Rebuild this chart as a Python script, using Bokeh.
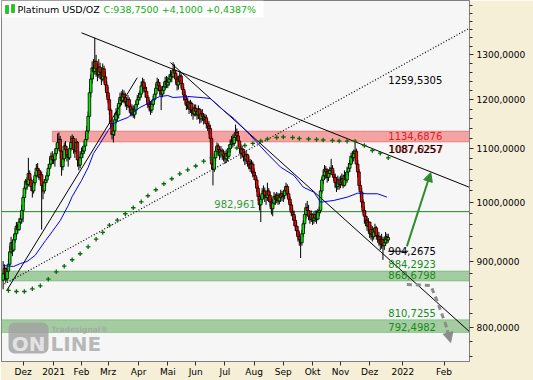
import numpy as np
import pandas as pd
from bokeh.plotting import figure
from bokeh.models import (FixedTicker, Label, BoxAnnotation, Span, Arrow, NormalHead,
                          Range1d, ColumnDataSource)
from bokeh.embed import file_html
from bokeh.resources import INLINE

# ---------------- data ----------------
first_bar = "2020-11-10"
last_bar = "2021-12-21"
first_open = 870.0

close_nov20 = [880, 888, 872, 884, 895, 915, 930, 918, 935, 945, 958, 952, 965, 970, 985]
high_nov20 = [900, 895, 890, 890, 905, 925, 940, 935, 945, 955, 965, 962, 972, 978, 995]
low_nov20 = [856, 872, 866, 868, 880, 893, 912, 908, 915, 930, 940, 945, 950, 960, 962]

close_dec20 = [1008, 1025, 1038, 1032, 1052, 1040, 1028, 1020, 1035, 1048, 1062, 1058, 1045, 1050, 1030, 1020, 1035, 1040, 1048, 1062, 1070, 1085, 1078]
high_dec20 = [1012, 1030, 1042, 1045, 1082, 1058, 1045, 1035, 1042, 1055, 1070, 1072, 1062, 1058, 1056, 1038, 1042, 1048, 1055, 1070, 1082, 1092, 1095]
low_dec20 = [965, 1000, 1015, 1022, 1028, 1035, 1020, 1008, 1015, 1030, 1045, 1048, 1040, 1038, 952, 1005, 1015, 1028, 1035, 1045, 1058, 1065, 1070]

close_jan21 = [1078, 1090, 1100, 1112, 1118, 1095, 1065, 1080, 1105, 1098, 1088, 1082, 1100, 1112, 1120, 1098, 1095, 1112, 1078, 1068, 1082]
high_jan21 = [1085, 1100, 1110, 1130, 1132, 1125, 1098, 1090, 1112, 1115, 1105, 1095, 1108, 1125, 1128, 1125, 1108, 1120, 1115, 1085, 1095]
low_jan21 = [1070, 1065, 1085, 1095, 1100, 1080, 1048, 1058, 1075, 1085, 1075, 1065, 1078, 1095, 1105, 1090, 1082, 1090, 1065, 1058, 1062]

close_feb21 = [1090, 1095, 1105, 1118, 1135, 1165, 1215, 1245, 1270, 1262, 1285, 1268, 1255, 1272, 1260, 1245, 1268, 1250, 1232, 1215]
high_feb21 = [1102, 1105, 1115, 1130, 1145, 1175, 1225, 1255, 1285, 1290, 1340, 1300, 1280, 1290, 1282, 1270, 1280, 1275, 1262, 1240]
low_feb21 = [1075, 1082, 1090, 1100, 1115, 1130, 1160, 1205, 1235, 1245, 1255, 1250, 1240, 1248, 1245, 1232, 1240, 1235, 1220, 1205]

close_mar21 = [1200, 1178, 1150, 1128, 1135, 1158, 1172, 1168, 1192, 1205, 1198, 1212, 1205, 1195, 1188, 1200, 1185, 1172, 1180, 1168, 1178, 1190, 1200]
high_mar21 = [1228, 1210, 1182, 1160, 1148, 1168, 1182, 1188, 1200, 1215, 1218, 1222, 1220, 1215, 1205, 1210, 1205, 1192, 1190, 1188, 1186, 1198, 1210]
low_mar21 = [1192, 1168, 1140, 1118, 1112, 1125, 1150, 1155, 1160, 1185, 1188, 1195, 1192, 1185, 1178, 1182, 1175, 1165, 1165, 1162, 1160, 1170, 1185]

close_apr21 = [1205, 1212, 1230, 1238, 1225, 1218, 1205, 1190, 1185, 1178, 1190, 1200, 1212, 1225, 1238, 1230, 1220, 1212, 1220, 1228, 1240, 1232]
high_apr21 = [1215, 1220, 1240, 1248, 1245, 1235, 1228, 1210, 1200, 1195, 1198, 1208, 1222, 1235, 1248, 1245, 1238, 1228, 1230, 1238, 1250, 1252]
low_apr21 = [1190, 1198, 1205, 1222, 1215, 1205, 1195, 1182, 1175, 1168, 1172, 1185, 1195, 1205, 1220, 1218, 1208, 1178, 1205, 1212, 1222, 1225]

close_may21 = [1238, 1245, 1255, 1250, 1265, 1258, 1245, 1232, 1240, 1252, 1235, 1222, 1210, 1200, 1188, 1195, 1180, 1192, 1178, 1170, 1182]
high_may21 = [1250, 1255, 1265, 1262, 1283, 1278, 1265, 1252, 1250, 1262, 1258, 1242, 1228, 1218, 1205, 1205, 1198, 1200, 1196, 1185, 1190]
low_may21 = [1225, 1230, 1240, 1238, 1248, 1245, 1235, 1220, 1222, 1238, 1225, 1212, 1198, 1190, 1178, 1180, 1170, 1172, 1165, 1158, 1165]

close_jun21 = [1175, 1168, 1180, 1160, 1170, 1165, 1158, 1162, 1150, 1145, 1140, 1120, 1070, 1060, 1082, 1095, 1105, 1098, 1088, 1095, 1090, 1085]
high_jun21 = [1190, 1182, 1188, 1182, 1178, 1180, 1172, 1170, 1168, 1158, 1155, 1148, 1125, 1078, 1090, 1102, 1112, 1110, 1102, 1105, 1100, 1098]
low_jun21 = [1165, 1158, 1160, 1150, 1152, 1155, 1148, 1150, 1140, 1135, 1128, 1112, 1060, 1030, 1055, 1075, 1088, 1085, 1078, 1082, 1078, 1075]

close_jul21 = [1080, 1090, 1085, 1100, 1108, 1115, 1110, 1122, 1132, 1125, 1115, 1100, 1090, 1098, 1085, 1078, 1088, 1075, 1070, 1062, 1070, 1055]
high_jul21 = [1095, 1098, 1100, 1108, 1118, 1125, 1128, 1130, 1148, 1140, 1135, 1120, 1108, 1105, 1100, 1095, 1095, 1090, 1085, 1080, 1078, 1075]
low_jul21 = [1070, 1072, 1075, 1080, 1092, 1100, 1102, 1105, 1115, 1115, 1105, 1092, 1080, 1082, 1075, 1068, 1070, 1065, 1060, 1055, 1052, 1045]

close_aug21 = [1048, 1040, 1025, 1010, 995, 1005, 1015, 1020, 1012, 1008, 1020, 1012, 1000, 988, 998, 1010, 1005, 1012, 1002, 1008, 1015, 1010]
high_aug21 = [1062, 1055, 1045, 1030, 1018, 1012, 1025, 1030, 1026, 1018, 1035, 1025, 1018, 1008, 1005, 1018, 1015, 1018, 1016, 1015, 1022, 1020]
low_aug21 = [1040, 1030, 1018, 1002, 985, 965, 998, 1005, 1000, 995, 1002, 1000, 992, 978, 975, 995, 995, 998, 995, 996, 1000, 1002]

close_sep21 = [1012, 1020, 1028, 1015, 1005, 995, 982, 978, 968, 958, 950, 940, 935, 930, 945, 962, 978, 990, 985, 975, 970, 978]
high_sep21 = [1022, 1028, 1035, 1032, 1022, 1010, 1000, 990, 985, 975, 965, 958, 948, 942, 952, 968, 985, 998, 1002, 995, 985, 985]
low_sep21 = [1000, 1005, 1012, 1008, 998, 985, 975, 968, 958, 950, 942, 932, 925, 905, 925, 940, 955, 970, 975, 968, 962, 965]

close_oct21 = [968, 972, 978, 970, 982, 985, 1020, 1040, 1048, 1060, 1055, 1045, 1052, 1058, 1062, 1050, 1045, 1035, 1028, 1040, 1032]
high_oct21 = [980, 982, 985, 985, 988, 992, 1028, 1045, 1058, 1068, 1066, 1062, 1060, 1065, 1080, 1068, 1058, 1052, 1045, 1048, 1045]
low_oct21 = [960, 962, 965, 962, 968, 975, 980, 1015, 1032, 1040, 1042, 1035, 1038, 1045, 1050, 1045, 1038, 1025, 1018, 1022, 1022]

close_nov21 = [1035, 1042, 1030, 1048, 1040, 1055, 1062, 1070, 1085, 1082, 1090, 1095, 1070, 1055, 1030, 1018, 1000, 985, 975, 968, 958, 965]
high_nov21 = [1048, 1052, 1050, 1058, 1055, 1065, 1072, 1078, 1092, 1095, 1098, 1112, 1100, 1078, 1060, 1038, 1025, 1005, 992, 985, 975, 972]
low_nov21 = [1025, 1030, 1025, 1028, 1032, 1035, 1048, 1055, 1068, 1072, 1075, 1082, 1062, 1045, 1022, 1008, 990, 978, 962, 958, 950, 948]

close_dec21 = [945, 952, 940, 948, 955, 942, 940, 935, 928, 935, 925, 930, 940, 934.65, 938.75]
high_dec21 = [962, 960, 958, 955, 962, 958, 950, 948, 942, 945, 940, 938, 948, 945, 945]
low_dec21 = [938, 935, 932, 935, 940, 935, 930, 925, 918, 920, 902, 918, 925, 928, 930]

# moving average (blue line)
ma_dates = ["2020-11-10", "2020-11-20", "2020-11-27", "2020-12-04", "2020-12-14", "2020-12-24",
            "2020-12-31", "2021-01-08", "2021-01-18", "2021-01-21", "2021-02-01", "2021-02-08",
            "2021-02-12", "2021-02-19", "2021-03-01", "2021-03-05", "2021-03-12", "2021-03-22",
            "2021-03-26", "2021-04-02", "2021-04-12", "2021-04-16", "2021-04-23", "2021-05-03",
            "2021-05-07", "2021-05-24", "2021-06-07", "2021-06-16", "2021-06-30", "2021-07-12",
            "2021-07-26", "2021-08-16", "2021-08-30", "2021-09-13", "2021-09-22", "2021-10-04",
            "2021-10-11", "2021-10-25", "2021-11-08", "2021-11-18", "2021-11-29", "2021-12-09",
            "2021-12-20"]
ma_values = [893.0, 891.5, 896.2, 899.4, 909.1, 933.7, 948.8, 967.6, 993.8, 1009.9, 1039.1, 1063.5,
             1090.4, 1109.9, 1135.9, 1150.2, 1156.4, 1162.6, 1173.0, 1183.5, 1191.9, 1200.5, 1206.9,
             1209.0, 1204.7, 1206.9, 1204.7, 1202.6, 1177.2, 1159.9, 1132.5, 1089.8, 1064.0, 1048.4,
             1026.8, 1017.7, 999.7, 1002.8, 1008.7, 1015.9, 1014.8, 1014.8, 1008.7]

# parabolic SAR (green crosses)
sar_dates = ["2020-11-16", "2020-11-24", "2020-12-02", "2020-12-10", "2020-12-18", "2020-12-28",
             "2021-01-05", "2021-01-13", "2021-01-21", "2021-01-29", "2021-02-08", "2021-02-16",
             "2021-02-23", "2021-03-02", "2021-03-10", "2021-03-18", "2021-03-26", "2021-04-05",
             "2021-04-12", "2021-04-20", "2021-04-28", "2021-05-06", "2021-05-14", "2021-05-24",
             "2021-06-01", "2021-06-09", "2021-06-17", "2021-06-28", "2021-07-06", "2021-07-14",
             "2021-07-22", "2021-07-30", "2021-08-09", "2021-08-16", "2021-08-25", "2021-09-01",
             "2021-09-10", "2021-09-17", "2021-09-28", "2021-10-06", "2021-10-13", "2021-10-22",
             "2021-10-29", "2021-11-08", "2021-11-16", "2021-11-25", "2021-12-03", "2021-12-13",
             "2021-12-21"]
sar_values = [854.2, 852.6, 852.6, 856.7, 861.3, 871.5, 883.1, 891.9, 902.2, 911.9, 923.3, 935.9,
              947.2, 959.6, 968.2, 979.3, 989.8, 1000.4, 1011.2, 1022.1, 1033.1, 1042.3, 1051.6,
              1059.1, 1066.3, 1075.5, 1081.7, 1089.8, 1096.2, 1101.1, 1106.0, 1110.0, 1114.9,
              1118.9, 1121.9, 1122.9, 1121.9, 1119.9, 1118.9, 1117.9, 1116.9, 1115.9, 1114.9,
              1114.5, 1114.5, 1106.0, 1096.2, 1090.9, 1082.0]

# solid trend lines
trend_d0 = ["2021-02-01", "2021-05-05", "2020-11-13"]
trend_p0 = [1352.0, 1282.0, 855.0]
trend_d1 = ["2022-02-20", "2022-02-20", "2021-03-31"]
trend_p1 = [1026.7, 794.0, 1248.0]
# dotted trend line
dotted_d = ["2020-11-11", "2022-02-20"]
dotted_p = [864.0, 1363.0]
# short marker line
marker_d = ["2021-12-21", "2022-01-05"]
marker_p = [916.0, 916.0]

# zones
red_zone = (1113.0, 1134.6876)
red_zone_start = "2020-12-31"
green_zone_hi = (868.6798, 884.2923)
green_zone_lo = (792.4982, 810.7255)
green_level = 982.961

# projections
up_arrow_d = ["2022-01-04", "2022-01-22"]
up_arrow_p = [924.0, 1054.0]
down_path_d = ["2022-01-04", "2022-01-22", "2022-01-27", "2022-02-02"]
down_path_p = [863.3, 861.8, 837.0, 805.4]
down_head_d = ["2022-02-02", "2022-02-06"]
down_head_p = [805.4, 778.5]

# price labels at the last bar
level_values = [1259.5305, 1134.6876, 1087.6257, 904.2675, 884.2923, 868.6798, 810.7255, 792.4982]
level_texts = ["1259,5305", "1134,6876", "1087,6257", "904,2675", "884,2923", "868,6798", "810,7255", "792,4982"]
shadow_text = "1087,0257"
green_level_text = "982,961"
green_level_label_date = "2021-06-21"

# axes
x_tick_dates = ["2020-12-01", "2021-01-01", "2021-02-01", "2021-03-01", "2021-04-01", "2021-05-01",
                "2021-06-01", "2021-07-01", "2021-08-01", "2021-09-01", "2021-10-01", "2021-11-01",
                "2021-12-01", "2022-01-01", "2022-02-01"]
x_tick_labels = ["Dez", "2021", "Feb", "Mrz", "Apr", "Mai", "Jun", "Jul", "Aug", "Sep", "Okt", "Nov",
                 "Dez", "2022", "Feb"]
y_ticks = [800, 900, 1000, 1100, 1200, 1300]
y_tick_labels = ["800,0000", "900,0000", "1000,0000", "1100,0000", "1200,0000", "1300,0000"]
y_minor = [760, 780, 820, 840, 860, 880, 920, 940, 960, 980, 1020, 1040, 1060, 1080, 1120, 1140,
           1160, 1180, 1220, 1240, 1260, 1280, 1320, 1340, 1360, 1380, 1400, 1420]

title_name = "Platinum USD/OZ"
title_quote = "C:938,7500 +4,1000 +0,4387%"

# ---------------- x mapping: trading days, then calendar days in the future ----------------
ORIGIN = np.datetime64("2020-12-01")
LAST = np.datetime64(last_bar)


def xi(d):
    d = np.datetime64(pd.Timestamp(d).date())
    if d <= LAST:
        return float(np.busday_count(ORIGIN, d))
    return float(np.busday_count(ORIGIN, LAST) + int((d - LAST).astype(int)))


closes = (close_nov20 + close_dec20 + close_jan21 + close_feb21 + close_mar21 + close_apr21 +
          close_may21 + close_jun21 + close_jul21 + close_aug21 + close_sep21 + close_oct21 +
          close_nov21 + close_dec21)
highs = (high_nov20 + high_dec20 + high_jan21 + high_feb21 + high_mar21 + high_apr21 +
         high_may21 + high_jun21 + high_jul21 + high_aug21 + high_sep21 + high_oct21 +
         high_nov21 + high_dec21)
lows = (low_nov20 + low_dec20 + low_jan21 + low_feb21 + low_mar21 + low_apr21 +
        low_may21 + low_jun21 + low_jul21 + low_aug21 + low_sep21 + low_oct21 +
        low_nov21 + low_dec21)
dates = pd.bdate_range(first_bar, last_bar)
n = min(len(dates), len(closes), len(highs), len(lows))
closes, highs, lows = closes[:n], highs[:n], lows[:n]
opens = [first_open] + closes[:-1]
bx = [xi(d) for d in dates[:n]]
tops = [max(o, c) for o, c in zip(opens, closes)]
bots = [min(o, c) for o, c in zip(opens, closes)]
his = [max(h, o, c) for h, o, c in zip(highs, opens, closes)]
los = [min(l, o, c) for l, o, c in zip(lows, opens, closes)]
cols = ["#00F000" if c >= o else "#FF0000" for o, c in zip(opens, closes)]
src = ColumnDataSource(dict(x=bx, top=tops, bottom=bots, hi=his, lo=los, color=cols))

# ---------------- figure ----------------
X0, X1 = -16.23, 336.17
Y0, Y1 = 752.6, 1432.1
FW, FH, FL, FT = 468, 361, 1, 0


def px_x(px):
    return X0 + (px - FL) * (X1 - X0) / FW


def py_y(py):
    return Y1 * (Y0 / Y1) ** ((py - FT) / FH)


BEIGE = "#F6EFD8"
p = figure(frame_width=FW, frame_height=FH, x_range=Range1d(X0, X1), y_range=Range1d(Y0, Y1),
           y_axis_type="log", y_axis_location="right", output_backend="svg",
           toolbar_location=None, min_border_left=FL, min_border_right=64,
           min_border_top=FT, min_border_bottom=19,
           background_fill_color="#F6F6F6", border_fill_color=BEIGE,
           outline_line_color="#808080")
p.grid.visible = False

FONT = "DejaVu Sans"
xa = p.xaxis[0]
xa.ticker = FixedTicker(ticks=[xi(d) for d in x_tick_dates], minor_ticks=[])
xa.major_label_overrides = {xi(d): lab for d, lab in zip(x_tick_dates, x_tick_labels)}
xa.major_label_text_align = "left"
xa.major_label_text_font = FONT
xa.major_label_text_font_size = "9px"
xa.major_label_text_color = "#000000"
xa.major_tick_out = 4
xa.major_tick_in = 0
xa.minor_tick_out = 0
xa.major_tick_line_color = "#303030"
xa.axis_line_color = "#808080"
xa.major_label_standoff = 1

ya = p.yaxis[0]
ya.ticker = FixedTicker(ticks=y_ticks, minor_ticks=y_minor)
ya.major_label_overrides = {t: lab for t, lab in zip(y_ticks, y_tick_labels)}
ya.major_label_text_font = FONT
ya.major_label_text_font_size = "9px"
ya.major_label_text_color = "#000000"
ya.major_tick_out = 4
ya.major_tick_in = 0
ya.minor_tick_out = 3
ya.minor_tick_in = 0
ya.major_tick_line_color = "#303030"
ya.minor_tick_line_color = "#303030"
ya.axis_line_color = "#808080"
ya.major_label_standoff = 3

# zones (behind candles)
GREEN = "#1A8A1A"
p.add_layout(BoxAnnotation(left=xi(red_zone_start), bottom=red_zone[0], top=red_zone[1],
                           fill_color="#F4A3A3", fill_alpha=1, line_color="#E81414", line_width=1,
                           level="underlay"))
for lo_, hi_ in (green_zone_hi, green_zone_lo):
    p.add_layout(BoxAnnotation(bottom=lo_, top=hi_, fill_color="#A3CDA0", fill_alpha=1,
                               line_color=GREEN, line_width=1, level="underlay"))
p.add_layout(Span(location=green_level, dimension="width", line_color=GREEN, line_width=1,
                  level="underlay"))

# candles
p.segment(x0="x", y0="lo", x1="x", y1="hi", source=src, line_color="black", line_width=1)
p.vbar(x="x", width=1.9, top="top", bottom="bottom", source=src, fill_color="color",
       line_color="black", line_width=0.8)

# trend lines
p.segment(x0=[xi(d) for d in trend_d0], y0=trend_p0, x1=[xi(d) for d in trend_d1], y1=trend_p1,
          line_color="black", line_width=1)
p.line([xi(d) for d in dotted_d], dotted_p, line_color="black", line_width=1.2, line_dash="1 2")
p.line([xi(d) for d in marker_d], marker_p, line_color="black", line_width=1)

# moving average
p.line([xi(d) for d in ma_dates], ma_values, line_color="#0000F0", line_width=1)

# SAR
p.scatter([xi(d) for d in sar_dates], sar_values, marker="cross", size=4.5, line_width=1.3,
          line_color="#0B6B0B")

# projections
p.add_layout(Arrow(end=NormalHead(size=9, fill_color="#2E8B2E", line_color="#2E8B2E"),
                   x_start=xi(up_arrow_d[0]), y_start=up_arrow_p[0],
                   x_end=xi(up_arrow_d[1]), y_end=up_arrow_p[1],
                   line_color="#2E8B2E", line_width=2))
p.line([xi(d) for d in down_path_d], down_path_p, line_color="#8C8C8C", line_width=3,
       line_dash="5 4")
p.add_layout(Arrow(end=NormalHead(size=10, fill_color="#8C8C8C", line_color="#8C8C8C"),
                   x_start=xi(down_head_d[0]), y_start=down_head_p[0],
                   x_end=xi(down_head_d[1]), y_end=down_head_p[1],
                   line_color="#8C8C8C", line_width=3, line_dash="4 3"))

# price labels
lbl_colors = ["#000000", "#E02020", "#000000", "#000000", GREEN, GREEN, GREEN, GREEN]
lbl_offsets = [-7, -5, 6, 7, 7, 6, 7, 6]
xlast = xi(last_bar)
p.add_layout(Label(x=xlast, y=level_values[2], x_offset=1, y_offset=lbl_offsets[2],
                   text=shadow_text, text_color="#E02020", text_font=FONT,
                   text_font_size="10px", text_baseline="middle"))
for v, t, c, off in zip(level_values, level_texts, lbl_colors, lbl_offsets):
    p.add_layout(Label(x=xlast, y=v, y_offset=off, text=t, text_color=c, text_font=FONT,
                       text_font_size="10px", text_baseline="middle"))
p.add_layout(Label(x=xi(green_level_label_date), y=green_level, y_offset=8, text=green_level_text,
                   text_color="#3A9A3A", text_font=FONT, text_font_size="10px",
                   text_baseline="middle"))

# watermark logo
try:
    logo_box = BoxAnnotation(left=px_x(8), right=px_x(48), top=py_y(322), bottom=py_y(353),
                             fill_color="#A0A0A0", fill_alpha=0.8, line_color=None,
                             border_radius=6)
except Exception:
    logo_box = BoxAnnotation(left=px_x(8), right=px_x(48), top=py_y(322), bottom=py_y(353),
                             fill_color="#A0A0A0", fill_alpha=0.8, line_color=None)
p.add_layout(logo_box)
p.add_layout(Label(x=px_x(28), y=py_y(343), text="ON", text_align="center", text_baseline="middle",
                   text_font=FONT, text_font_style="bold", text_font_size="20px",
                   text_color="#E2E2E2"))
p.add_layout(Label(x=px_x(50), y=py_y(343), text="LINE", text_baseline="middle",
                   text_font=FONT, text_font_style="bold", text_font_size="20px",
                   text_color="#B0B0B0", text_alpha=0.9))
p.add_layout(Label(x=px_x(51), y=py_y(329), text="Tradesignal®", text_baseline="middle",
                   text_font=FONT, text_font_style="bold", text_font_size="7.5px",
                   text_color="#A8A8A8"))

# title strip
p.add_layout(BoxAnnotation(left=X0, right=px_x(263), top=Y1, bottom=py_y(17),
                           fill_color="white", fill_alpha=1, line_color=None))
for l_, r_, t_, b_ in ((5, 8, 5, 13), (11, 14, 4, 12)):
    p.add_layout(BoxAnnotation(left=px_x(l_), right=px_x(r_), top=py_y(t_), bottom=py_y(b_),
                               fill_color="#00E000", fill_alpha=1, line_color="black",
                               line_width=1))
p.add_layout(Label(x=px_x(17), y=py_y(9), text=title_name, text_baseline="middle",
                   text_font=FONT, text_font_size="9.5px", text_color="#000000"))
p.add_layout(Label(x=px_x(103), y=py_y(9), text=title_quote, text_baseline="middle",
                   text_font=FONT, text_font_size="9.5px", text_color="#10B010"))

# currency sign above the price axis
p.add_layout(Label(x=px_x(473), y=py_y(10), text="$", text_baseline="middle",
                   text_font=FONT, text_font_size="10px", text_color="#000000"))

open("out.html", "w").write(file_html(p, INLINE, title="Platinum USD/OZ"))
